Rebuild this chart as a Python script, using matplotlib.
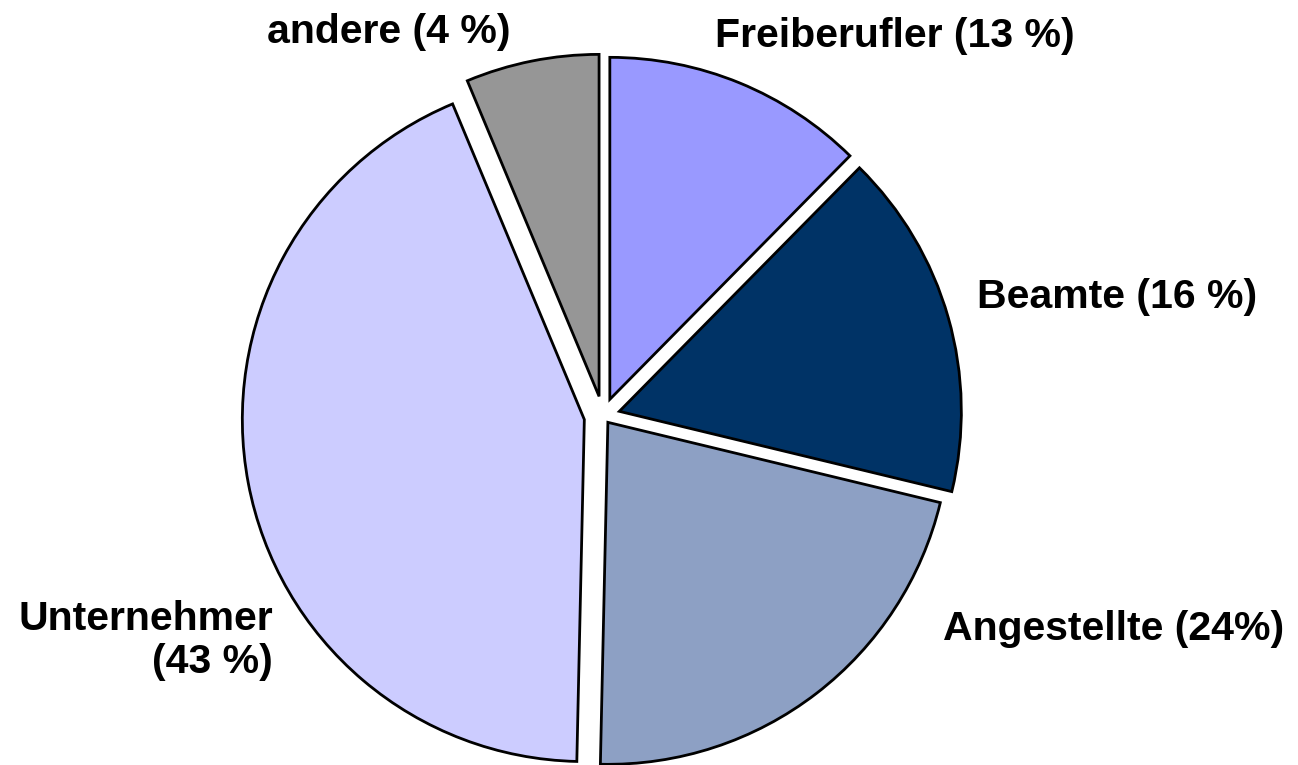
import matplotlib
matplotlib.use("Agg")
import matplotlib.pyplot as plt

# Data (drawn shares, clockwise from 12 o'clock)
categories = ["Freiberufler", "Beamte", "Angestellte", "Unternehmer", "andere"]
values = [12.4, 16.4, 21.6, 43.4, 6.3]
labels = ["Freiberufler (13 %)", "Beamte (16 %)", "Angestellte (24%)",
          "Unternehmer\n(43 %)", "andere (4 %)"]
colors = ["#9999FF", "#003366", "#8DA0C4", "#CCCCFF", "#969696"]

W, H = 1298, 765
fig = plt.figure(figsize=(W / 100, H / 100), dpi=100)
ax = fig.add_axes([0, 0, 1, 1])

radius = 342
center = (603, H - 416)
# explosion offsets (in pixel units, matplotlib applies them in data units)
explode_px = [18, 17, 8, 19, 20]
ax.pie(values, colors=colors, explode=explode_px, startangle=90,
       counterclock=False, radius=radius, center=center,
       wedgeprops=dict(edgecolor="black", linewidth=2, joinstyle="miter"))

ax.set_xlim(0, W)
ax.set_ylim(0, H)
ax.set_aspect("equal")
ax.axis("off")

font = dict(family=["Liberation Sans", "DejaVu Sans"], fontsize=29.5,
            fontweight="bold", color="black")
# label anchor positions (pixel layout; baseline of last line)
label_pos = {
    "Freiberufler": (895, H - 47, "center"),
    "Beamte": (1117, H - 308, "center"),
    "Angestellte": (1114, H - 640, "center"),
    "Unternehmer": (273, H - 673, "right"),
    "andere": (389, H - 43, "center"),
}
for cat, lab in zip(categories, labels):
    x, y, ha = label_pos[cat]
    ax.text(x, y, lab, ha=ha, va="baseline", multialignment=ha,
            linespacing=1.15, **font)

fig.savefig("out.png", dpi=100)
